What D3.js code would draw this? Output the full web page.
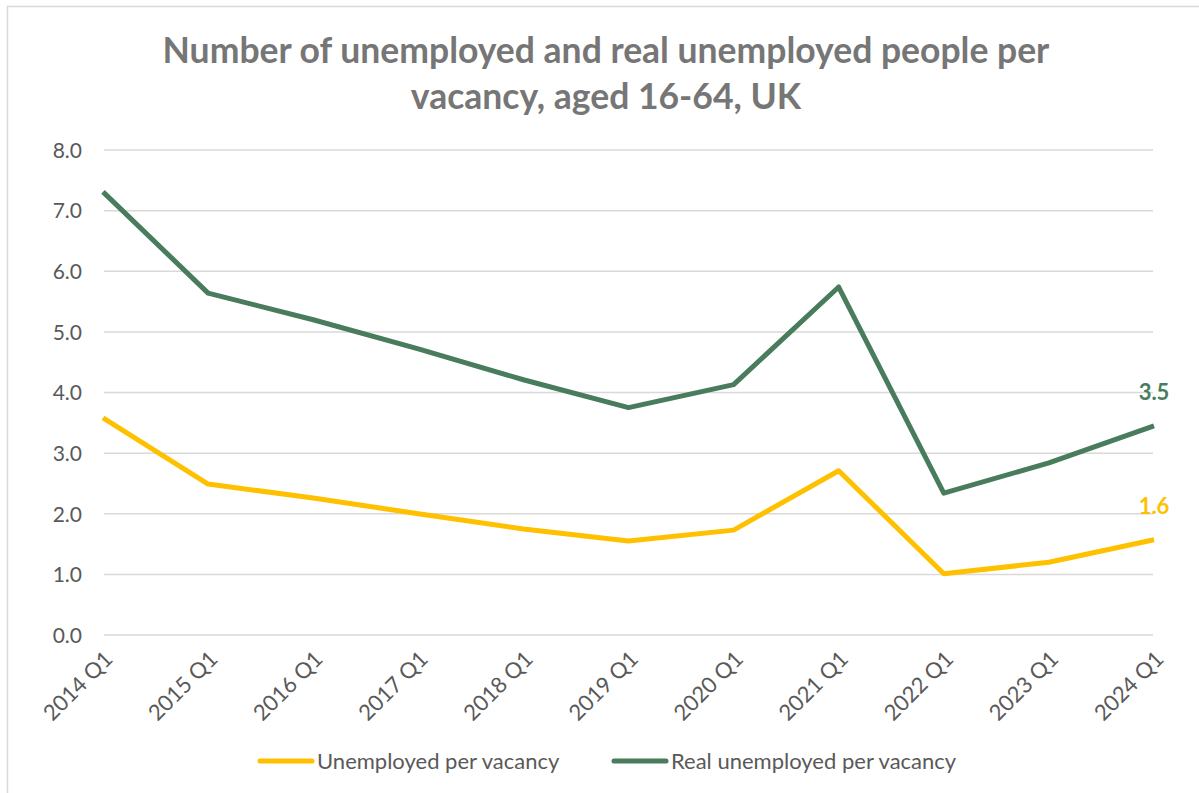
<!DOCTYPE html>
<html>
<head>
<meta charset="utf-8">
<script src="https://cdn.jsdelivr.net/npm/d3@7"></script>
<style>
  html, body { margin: 0; padding: 0; background: #fff; }
  svg text { font-family: Lato, "Open Sans", sans-serif; }
</style>
</head>
<body>
<svg id="chart" width="1199" height="793"></svg>
<script>
// Quarterly categories
const quarters = ["2014 Q1", "2015 Q1", "2016 Q1", "2017 Q1", "2018 Q1", "2019 Q1",
                  "2020 Q1", "2021 Q1", "2022 Q1", "2023 Q1", "2024 Q1"];
// Unemployed people per vacancy
const unemployed = [3.58, 2.49, 2.26, 2.00, 1.75, 1.55, 1.73, 2.71, 1.01, 1.20, 1.57];
// Real unemployed people per vacancy
const realUnemployed = [7.31, 5.64, 5.20, 4.72, 4.21, 3.75, 4.13, 5.74, 2.34, 2.84, 3.45];
// Y axis ticks
const yTicks = [0, 1, 2, 3, 4, 5, 6, 7, 8];

const seriesNames = ["Unemployed per vacancy", "Real unemployed per vacancy"];
const colors = ["#FFC000", "#487C5C"];

const svg = d3.select("#chart");

// Chart frame
svg.append("rect")
  .attr("x", 7.5).attr("y", 6.5)
  .attr("width", 1199).attr("height", 800)
  .attr("fill", "#fff").attr("stroke", "#d9d9d9").attr("stroke-width", 1.5);

// Title
const title = svg.append("text")
  .attr("text-anchor", "middle")
  .attr("fill", "#767676")
  .attr("font-size", 35.5)
  .attr("font-weight", "bold");
title.append("tspan").attr("x", 606).attr("y", 63)
  .text("Number of unemployed and real unemployed people per");
title.append("tspan").attr("x", 606).attr("y", 109)
  .text("vacancy, aged 16-64, UK");

const x = d3.scalePoint().domain(quarters).range([103, 1154]);
const y = d3.scaleLinear().domain([0, 8]).range([635, 150]);

// Gridlines
svg.append("g")
  .selectAll("line")
  .data(yTicks)
  .join("line")
  .attr("x1", 104).attr("x2", 1153)
  .attr("y1", d => y(d)).attr("y2", d => y(d))
  .attr("stroke", "#d9d9d9").attr("stroke-width", 1.5);

// Y axis labels
const yAxis = svg.append("g")
  .attr("transform", "translate(82,0)")
  .call(d3.axisLeft(y).tickValues(yTicks).tickFormat(d3.format(".1f")).tickSize(0).tickPadding(0));
yAxis.select(".domain").remove();
yAxis.selectAll("text")
  .attr("font-size", 21).attr("fill", "#595959")
  .attr("font-family", "Lato, 'Open Sans', sans-serif")
  .attr("dy", "0.35em");

// X axis labels (rotated)
const xAxis = svg.append("g")
  .attr("transform", "translate(0,655)")
  .call(d3.axisBottom(x).tickSize(0).tickPadding(0));
xAxis.select(".domain").remove();
xAxis.selectAll("text")
  .attr("font-size", 22).attr("fill", "#595959")
  .attr("font-family", "Lato, 'Open Sans', sans-serif")
  .attr("text-anchor", "end")
  .attr("dy", "0.35em")
  .attr("transform", "translate(5,0) rotate(-45)");

// Lines
const line = d3.line().x((d, i) => x(quarters[i])).y(d => y(d));
[unemployed, realUnemployed].forEach((vals, k) => {
  svg.append("path")
    .datum(vals)
    .attr("d", line)
    .attr("fill", "none")
    .attr("stroke", colors[k])
    .attr("stroke-width", 5)
    .attr("stroke-linejoin", "round");
});

// End-point value labels
[unemployed, realUnemployed].forEach((vals, k) => {
  const last = vals[vals.length - 1];
  svg.append("text")
    .attr("x", x(quarters[quarters.length - 1]))
    .attr("y", y(last) - 26)
    .attr("text-anchor", "middle")
    .attr("fill", colors[k])
    .attr("font-size", 22)
    .attr("font-weight", "bold")
    .text(d3.format(".1f")(last));
});

// Legend
const legendItems = [{x: 258, k: 0}, {x: 612, k: 1}];
legendItems.forEach(({x: lx, k}) => {
  svg.append("line")
    .attr("x1", lx + 2).attr("x2", lx + 54)
    .attr("y1", 761).attr("y2", 761)
    .attr("stroke", colors[k]).attr("stroke-width", 5)
    .attr("stroke-linecap", "round");
  svg.append("text")
    .attr("x", lx + 59).attr("y", 761)
    .attr("dy", "0.35em")
    .attr("fill", "#595959")
    .attr("font-size", 22)
    .text(seriesNames[k]);
});
</script>
</body>
</html>
